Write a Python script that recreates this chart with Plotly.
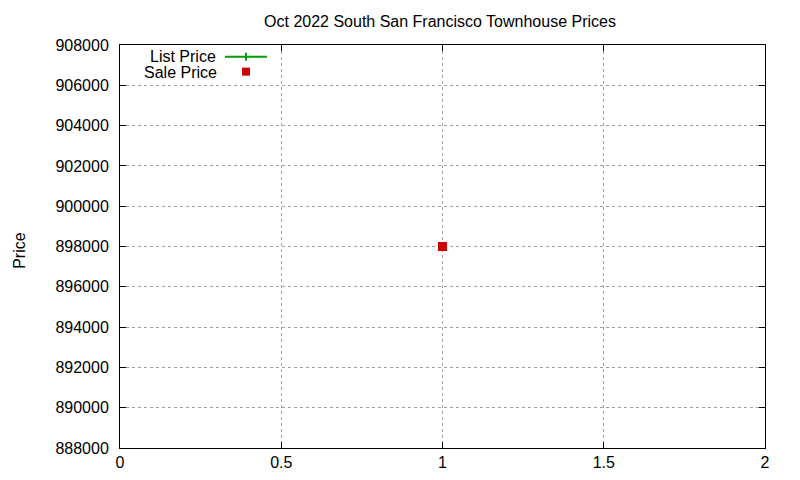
import plotly.graph_objects as go

# data
x_vals = [1]
list_price = [898000]
sale_price = [898000]

x_ticks = [0, 0.5, 1, 1.5, 2]
x_tick_text = ['0', '0.5', '1', '1.5', '2']
y_ticks = list(range(888000, 908001, 2000))

GREEN = '#00a000'
RED = '#cc0000'
FONT = 'Liberation Sans, Arial, sans-serif'

fig = go.Figure()
fig.add_trace(go.Scatter(x=x_vals, y=list_price, name='List Price', mode='lines+markers',
                         line=dict(color=GREEN, width=2),
                         marker=dict(symbol='cross-thin', size=6, line=dict(color=GREEN, width=1))))
fig.add_trace(go.Scatter(x=x_vals, y=sale_price, name='Sale Price', mode='markers',
                         marker=dict(symbol='square', size=9, color=RED)))

axis_style = dict(showline=True, linecolor='black', linewidth=1, mirror='ticks',
                  ticks='inside', ticklen=6, tickcolor='black', automargin=False,
                  showgrid=True, gridcolor='#a0a0a0', griddash='dot', gridwidth=1,
                  zeroline=False, tickfont=dict(size=16, color='black'))

fig.update_xaxes(range=[0, 2], tickvals=x_ticks, ticktext=x_tick_text, **axis_style)
fig.update_yaxes(range=[888000, 908000], tickvals=y_ticks, ticktext=[str(v) for v in y_ticks],
                 ticklabelstandoff=7, **axis_style)

# y-axis title placed like gnuplot does
fig.add_annotation(x=-0.157, y=0.491, xref='paper', yref='paper', text='Price', textangle=-90,
                   borderpad=0, showarrow=False, xanchor='center', yanchor='middle',
                   font=dict(size=16, color='black'))

# gnuplot-style legend: label on the left, sample on the right
fig.add_annotation(x=0.150, y=0.9705, xref='paper', yref='paper', text='List Price', borderpad=0,
                   showarrow=False, xanchor='right', yanchor='middle', font=dict(size=16, color='black'))
fig.add_annotation(x=0.152, y=0.9330, xref='paper', yref='paper', text='Sale Price', borderpad=0,
                   showarrow=False, xanchor='right', yanchor='middle', font=dict(size=16, color='black'))
fig.add_shape(type='line', xref='paper', yref='paper', x0=0.1628, x1=0.2279, y0=0.9710, y1=0.9710,
              line=dict(color=GREEN, width=2))
fig.add_shape(type='line', xref='paper', yref='paper', x0=0.1953, x1=0.1953, y0=0.9611, y1=0.9809,
              line=dict(color=GREEN, width=2))
fig.add_shape(type='rect', xref='paper', yref='paper', x0=0.1891, x1=0.2016, y0=0.9240, y1=0.9438,
              line=dict(width=0), fillcolor=RED)

# the page puts the figure 8px in from the corner, so margins are offset by that
fig.update_layout(
    width=800, height=480,
    title=dict(text='Oct 2022 South San Francisco Townhouse Prices', x=0.54, xanchor='center',
               y=0.973, yanchor='middle', font=dict(size=16, color='black')),
    font=dict(family=FONT, size=16, color='black'),
    plot_bgcolor='white', paper_bgcolor='white',
    showlegend=False,
    margin=dict(l=112, r=43, t=37, b=40, autoexpand=False),
)

fig.write_html('out.html')
